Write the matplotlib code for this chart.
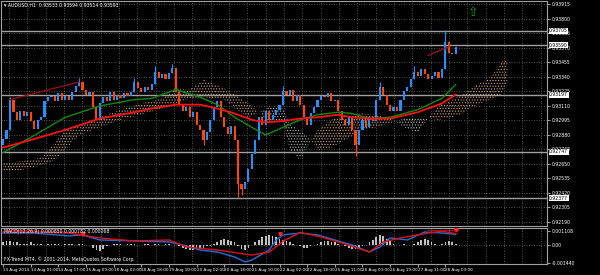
import numpy as np
import matplotlib.pyplot as plt

# AUDUSD H1 -- one candle drawn per 2 hours
closes = [0.9285, 0.9292, 0.9316, 0.9306, 0.9300, 0.9307, 0.9303, 0.9306, 0.9299, 0.9293,
          0.9300, 0.9302, 0.9315, 0.9318, 0.9319, 0.9315, 0.9321, 0.9316, 0.9319, 0.9316,
          0.9322, 0.9327, 0.9330, 0.9324, 0.9320, 0.9322, 0.9310, 0.9300, 0.9313, 0.9318,
          0.9315, 0.9322, 0.9316, 0.9320, 0.9317, 0.9321, 0.9319, 0.9322, 0.9330, 0.9325,
          0.9322, 0.9326, 0.9324, 0.9328, 0.9338, 0.9333, 0.9336, 0.9332, 0.9337, 0.9341,
          0.9322, 0.9312, 0.9307, 0.9310, 0.9302, 0.9306, 0.9296, 0.9292, 0.9284, 0.9290,
          0.9300, 0.9310, 0.9315, 0.9302, 0.9294, 0.9289, 0.9295, 0.9284, 0.9249, 0.9245,
          0.9251, 0.9261, 0.9273, 0.9284, 0.9302, 0.9296, 0.9307, 0.9300, 0.9304, 0.9308,
          0.9312, 0.9323, 0.9320, 0.9324, 0.9315, 0.9320, 0.9312, 0.9302, 0.9296, 0.9305,
          0.9310, 0.9316, 0.9319, 0.9318, 0.9321, 0.9315, 0.9316, 0.9307, 0.9300, 0.9296,
          0.9302, 0.9292, 0.9280, 0.9292, 0.9300, 0.9294, 0.9302, 0.9299, 0.9316, 0.9326,
          0.9320, 0.9312, 0.9307, 0.9310, 0.9307, 0.9316, 0.9323, 0.9326, 0.9332, 0.9338,
          0.9335, 0.9340, 0.9336, 0.9332, 0.9335, 0.9338, 0.9333, 0.9340, 0.9362, 0.9353,
          0.9352, 0.9358]
first_open = 0.9280
spike_idx = [2, 22, 38, 44, 49, 58, 68, 69, 81, 102, 109, 119, 128]
spike_px = [0.9318, 0.9333, 0.9333, 0.9343, 0.9344, 0.9280, 0.9239, 0.9240, 0.9327, 0.9271, 0.9330, 0.9343, 0.9371]

# moving averages
ma_idx = [0, 8, 18, 28, 38, 43, 50, 57, 62, 67, 72, 76, 81, 86, 91, 97, 101, 106, 112, 120, 127, 131]
ma_green = [0.9274, 0.9286, 0.9302, 0.9311, 0.9316, 0.9317, 0.9324, 0.9318, 0.9312, 0.9302, 0.9294,
            0.9288, 0.9294, 0.9300, 0.9304, 0.9306, 0.9305, 0.9301, 0.9302, 0.9308, 0.9317, 0.9328]
ma_red = [0.9278, 0.9284, 0.9292, 0.9301, 0.9306, 0.9309, 0.9312, 0.9312, 0.9309, 0.9305, 0.9300,
          0.9298, 0.9299, 0.9301, 0.9302, 0.9304, 0.9302, 0.9301, 0.9301, 0.9306, 0.9313, 0.9320]

# ichimoku cloud
cloud_idx = [0, 5, 11, 15, 18, 22, 28, 34, 40, 46, 50, 54, 58, 64, 67, 71, 74, 77, 81, 83,
             86, 89, 91, 95, 99, 104, 108, 113, 116, 120, 123, 126, 130, 133, 137, 141, 144, 146]
span_a = [0.9266, 0.9267, 0.9270, 0.9282, 0.9292, 0.9296, 0.9302, 0.9308, 0.9313, 0.9317,
          0.9325, 0.9324, 0.9332, 0.9325, 0.9320, 0.9313, 0.9306, 0.9298, 0.9300, 0.9276,
          0.9268, 0.9284, 0.9292, 0.9300, 0.9304, 0.9305, 0.9304, 0.9300, 0.9294, 0.9290,
          0.9301, 0.9311, 0.9316, 0.9320, 0.9328, 0.9333, 0.9346, 0.9347]
span_b = [0.9259, 0.9260, 0.9264, 0.9268, 0.9276, 0.9288, 0.9294, 0.9300, 0.9304, 0.9309,
          0.9313, 0.9317, 0.9318, 0.9316, 0.9309, 0.9302, 0.9306, 0.9310, 0.9309, 0.9296,
          0.9292, 0.9284, 0.9276, 0.9278, 0.9284, 0.9292, 0.9294, 0.9298, 0.9301, 0.9301,
          0.9301, 0.9300, 0.9302, 0.9305, 0.9312, 0.9316, 0.9320, 0.9328]

# divergence lines
div_main_idx = [[2, 22], [123, 129]]
div_main_px = [[0.9316, 0.9330], [0.9351, 0.9358]]

levels = [0.93705, 0.93590, 0.93197, 0.92747, 0.92377]
level_labels = ['0.93705', '0.93590', '0.93197', '0.92747', '0.92377']
price_ticks = [0.93915, 0.93800, 0.93685, 0.93570, 0.93455, 0.93340, 0.93225, 0.93110,
               0.92995, 0.92880, 0.92765, 0.92650, 0.92535, 0.92420, 0.92305, 0.92190]

date_idx = [0, 8, 16, 24, 32, 40, 48, 56, 64, 72, 80, 88, 96, 104, 112, 120, 128]
date_labels = ['13 Aug 2014', '14 Aug 01:00', '14 Aug 17:00', '15 Aug 09:00', '18 Aug 02:00',
               '18 Aug 18:00', '19 Aug 10:00', '20 Aug 02:00', '20 Aug 18:00', '21 Aug 10:00',
               '22 Aug 02:00', '22 Aug 18:00', '25 Aug 11:00', '26 Aug 03:00', '26 Aug 19:00',
               '27 Aug 11:00', '28 Aug 03:00']

# MACD panel
macd_idx = [0, 9, 19, 23, 28, 38, 48, 52, 57, 62, 67, 70, 72, 77, 79, 81, 86, 91, 96, 101,
            106, 109, 112, 117, 122, 127, 131]
macd_val = [0.00095, 0.00095, 0.00072, 0.00080, 0.00040, 0.00032, 0.00024, 0.0, -0.00040, -0.00056,
            -0.00095, -0.00135, -0.00119, -0.00040, 0.00040, 0.00080, 0.00095, 0.00080, 0.00040, 0.0,
            -0.00056, -0.00016, 0.00056, 0.00040, 0.00103, 0.00095, 0.00085]
sig_idx = [0, 9, 19, 28, 38, 48, 53, 62, 72, 77, 81, 86, 92, 98, 106, 110, 115, 123, 127, 131]
sig_val = [0.00103, 0.00103, 0.00095, 0.00056, 0.00032, 0.00040, -0.00016, -0.00040, -0.00080, -0.00056,
           0.00030, 0.00100, 0.00064, 0.00016, -0.00056, 0.00024, 0.00056, 0.00095, 0.00110, 0.00090]
hist = [2, 3, 3, 2, 2, 1,
        1, 1, 2, 1, 1, 1, 0, 1,
        1, 1, 1, 0, 1, 1, 1, 0, 1, 1, 0, 0,
        -2, -4, -5, -3, -1,
        0, 1, 1, 1, 0, 1, 1, 1, 0, 0, 1, 1, 0, 1, 1, 0, 1, 1, 0, 0,
        -1, -2, -3, -4, -4, -3, -3, -2, -1, -1,
        1, 2, 4, 5, 4, 3, 2,
        -1, -3, -4, -2, 0,
        2, 4, 6, 7, 8, 7, 6, 5, 4, 3, 2, 1, 0,
        -1, -2, -2, -1, 0,
        1, 2, 3, 3, 2, 2, 1, 0,
        -1, -2, -3, -3, -2, -1, 0,
        2, 4, 6, 8, 7, 5, 3, 1,
        0, 0, 1, 0, 0, 1,
        2, 4, 5, 4, 2, 1,
        0, 1, 2, 3, 2, 1]  # x 1e-4
div_macd_idx = [[1, 23], [123, 131]]
div_macd_val = [[0.00119, 0.00095], [0.00119, 0.00119]]
arrow_idx = [23, 80]
arrow_val = [0.00088, 0.00088]

macd_ticks = [0.001108, 0.0, -0.001440]
macd_tick_labels = ['0.001108', '0.00', '-0.001440']

UP = '#1e90ff'
DOWN = '#ff4500'
GRID = '#6a6a6a'
FRAME = '#a0a0a0'
FS = 3.3

fig = plt.figure(figsize=(6, 2.75), dpi=100, facecolor='black')
ax = fig.add_axes([1/600, 49/275, 546/600, 225/275], facecolor='black')
ax2 = fig.add_axes([1/600, 11/275, 546/600, 36/275], facecolor='black')

xlim = (-0.6, 157.4)
grid_x = (np.arange(9, 546, 18.3) - 3) / 3.45

# ---------- main chart ----------
for gx in grid_x:
    ax.axvline(gx, color=GRID, lw=0.6, ls=(0, (1, 2)), zorder=0)
for p in price_ticks:
    ax.axhline(p, color=GRID, lw=0.6, ls=(0, (1, 2)), zorder=0)

# cloud
ci = np.array(cloud_idx)
sa = np.array(span_a)
sb = np.array(span_b)
plt.rcParams['hatch.linewidth'] = 0.5
plt.rcParams['hatch.color'] = '#d0a272'
ax.fill_between(ci, sa, sb, where=sa >= sb, interpolate=True, facecolor='none',
                edgecolor='#d0a272', hatch='......', linewidth=0, zorder=1)
plt.rcParams['hatch.color'] = '#b8b8b8'
ax.fill_between(ci, sa, sb, where=sa < sb, interpolate=True, facecolor='none',
                edgecolor='#b8b8b8', hatch='......', linewidth=0, zorder=1)

for lv in levels:
    ax.axhline(lv, color=FRAME, lw=1.0, zorder=2)

# candles
c = np.array(closes)
o = np.array([first_open] + closes[:-1])
xi = np.arange(len(c))
col = [UP if cc >= oo else DOWN for cc, oo in zip(c, o)]
for i, sp in zip(spike_idx, spike_px):
    ax.vlines(i, min(o[i], c[i], sp), max(o[i], c[i], sp), color=col[i], lw=0.8, zorder=3)
ax.bar(xi, c - o, bottom=o, width=0.62, color=col, linewidth=0, zorder=3)

ax.plot(ma_idx, ma_green, color='#0f8a0f', lw=1.0, zorder=4)
ax.plot(ma_idx, ma_red, color='#ff1010', lw=1.3, zorder=4)
for xs, ys in zip(div_main_idx, div_main_px):
    ax.plot(xs, ys, color='#a01010', lw=0.9, zorder=4)

ax.text(136, 0.9385, '\u21e7', color='#1aa01a', fontsize=9, ha='center', va='center')
ax.text(0.005, 0.99, '\u25be AUDUSD,H1  0.93533 0.93594 0.93514 0.93593', transform=ax.transAxes,
        color='white', fontsize=FS, va='top', ha='left')

ax.set_xlim(*xlim)
ax.set_ylim(0.921578, 0.939421)
ax.yaxis.tick_right()
ax.set_yticks(price_ticks)
ax.set_yticklabels(['%.5f' % p for p in price_ticks])
ax.tick_params(axis='y', colors=FRAME, labelcolor='white', labelsize=FS, length=2, pad=1.5)
ax.set_xticks([])
for s in ax.spines.values():
    s.set_color(FRAME)
    s.set_linewidth(0.8)
for lv, lab in zip(levels, level_labels):
    ax.text(1.004, lv, lab, transform=ax.get_yaxis_transform(), color='black', fontsize=FS,
            va='center', ha='left', zorder=10, clip_on=False,
            bbox=dict(facecolor='white', edgecolor='none', pad=0.3))

# ---------- MACD ----------
for gx in grid_x:
    ax2.axvline(gx, color=GRID, lw=0.6, ls=(0, (1, 2)), zorder=0)
ax2.axhline(0, color=GRID, lw=0.6, ls=(0, (1, 2)), zorder=0)
ax2.bar(np.arange(len(hist)), np.array(hist) * 1e-4, width=0.5, color='#c0c0c0', linewidth=0, zorder=1)
ax2.plot(macd_idx, macd_val, color='#1f6fe0', lw=1.0, zorder=2)
ax2.plot(sig_idx, sig_val, color='#e01010', lw=1.0, zorder=2)
for xs, ys in zip(div_macd_idx, div_macd_val):
    ax2.plot(xs, ys, color='#a01010', lw=0.9, zorder=2)
ax2.plot(arrow_idx, arrow_val, 'v', color='#ff2020', ms=2.5, zorder=3)
ax2.plot([131], [0.00125], 'o', color='#ff2020', ms=2.5, zorder=3)

ax2.text(0.005, 0.97, 'MACD(12,26,9) 0.000850 0.000782 0.000068', transform=ax2.transAxes,
         color='white', fontsize=FS, va='top', ha='left')
ax2.text(0.005, 0.06, 'FX-Trend MT4, \u00a9 2001-2014, MetaQuotes Software Corp.', transform=ax2.transAxes,
         color='white', fontsize=FS, va='bottom', ha='left')

ax2.set_xlim(*xlim)
ax2.set_ylim(-0.00151, 0.00135)
ax2.yaxis.tick_right()
ax2.set_yticks(macd_ticks)
ax2.set_yticklabels(macd_tick_labels)
ax2.tick_params(axis='y', colors=FRAME, labelcolor='white', labelsize=FS, length=2, pad=1.5)
ax2.set_xticks(date_idx)
ax2.set_xticklabels(date_labels, ha='left')
ax2.tick_params(axis='x', colors=FRAME, labelcolor='white', labelsize=3.0, length=2, pad=1)
for s in ax2.spines.values():
    s.set_color(FRAME)
    s.set_linewidth(0.8)

fig.savefig('out.png', dpi=100, facecolor='black')
